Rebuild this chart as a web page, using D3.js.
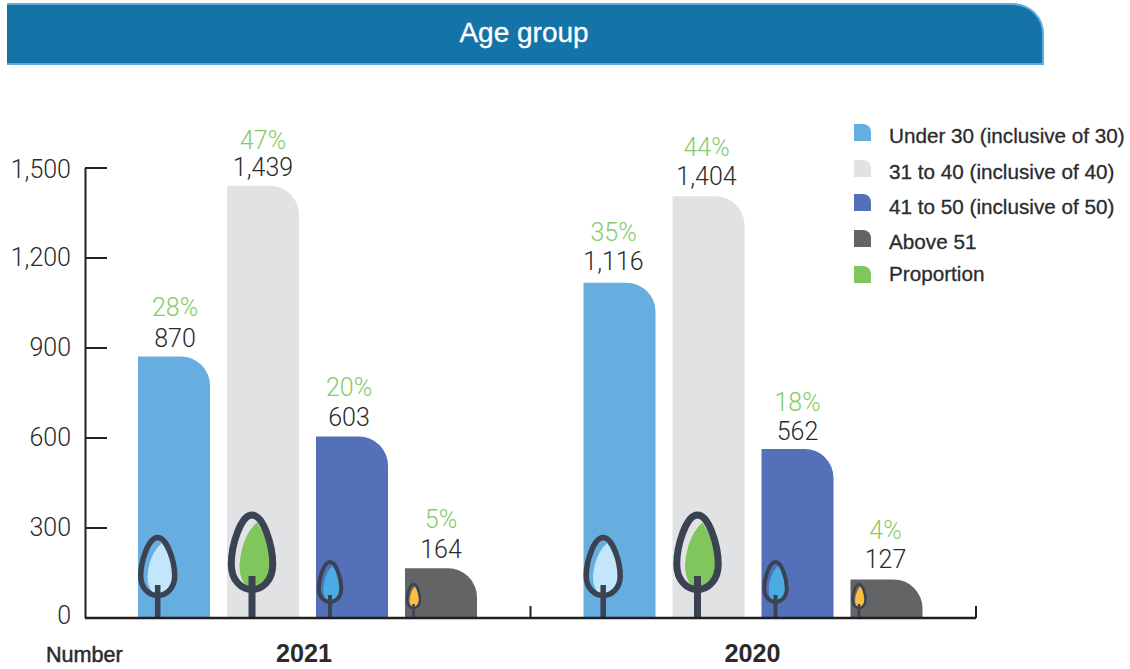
<!DOCTYPE html>
<html>
<head>
<meta charset="utf-8">
<script src="https://cdnjs.cloudflare.com/ajax/libs/d3/7.8.5/d3.min.js"></script>
<style>
  html, body { margin: 0; padding: 0; background: #fff; }
  svg { display: block; font-family: "Liberation Sans", Arial, sans-serif; }
  .thin { font-family: Roboto, "Liberation Sans", sans-serif; font-weight: 300; }
</style>
</head>
<body>
<div id="chart"></div>
<script>
var width = 1130,
    height = 669;

var title = "Age group";
var years = ["2021", "2020"];
var groups = ["Under 30 (inclusive of 30)", "31 to 40 (inclusive of 40)", "41 to 50 (inclusive of 50)", "Above 51"];
var legendLabels = groups.concat(["Proportion"]);
var values2021 = [870, 1439, 603, 164];
var values2020 = [1116, 1404, 562, 127];
var share2021 = [28, 47, 20, 5];
var share2020 = [35, 44, 18, 4];
var yTicks = [0, 300, 600, 900, 1200, 1500];

var barColors = ["#66aee0", "#e0e2e4", "#5470b8", "#636466"];
var legendColors = barColors.concat(["#7fc65c"]);
var treeColors = ["#c4e6fa", "#7fc65c", "#4aace3", "#fdbe3d"];
var inkColor = "#3b4252";
var green = "#85cb6a";
var textColor = "#2b2b2d";

var svg = d3.select("#chart").append("svg")
    .attr("width", width)
    .attr("height", height);

var y = d3.scaleLinear().domain([0, 1500]).range([617.5, 167.5]);
var x0 = d3.scaleBand().domain(years).range([85, 976]);
var x1 = d3.scaleBand().domain(d3.range(4)).range([53, 392]).paddingInner(17 / 89).paddingOuter(0);

// header band, light edge on top, right and bottom only
svg.append("path")
    .attr("d", "M7,64 V4 H1013 A30,30 0 0 1 1043,34 V64 Z")
    .attr("fill", "#1474a8");
svg.append("path")
    .attr("d", "M7,4 H1013 A30,30 0 0 1 1043,34 V64 H7")
    .attr("fill", "none")
    .attr("stroke", "#62aadd")
    .attr("stroke-width", 2);

svg.append("text")
    .attr("x", 524)
    .attr("y", 42)
    .attr("text-anchor", "middle")
    .attr("fill", "#fff")
    .attr("stroke", "#fff")
    .attr("stroke-width", 0.3)
    .attr("font-size", 28)
    .text(title);

// bar with the top right corner rounded
function barPath(x, top, w, base) {
  var r = 29;
  return "M" + x + "," + base + "V" + top + "H" + (x + w - r) +
    "A" + r + "," + r + " 0 0 1 " + (x + w) + "," + (top + r) + "V" + base + "Z";
}

// crown outline, tip at top and round end at top + h
function crownPath(cx, top, h, w) {
  return "M" + cx + "," + top +
    "C" + (cx + w * 0.28) + "," + top + " " + (cx + w * 0.5) + "," + (top + h * 0.42) + " " + (cx + w * 0.5) + "," + (top + h * 0.66) +
    "C" + (cx + w * 0.5) + "," + (top + h * 0.88) + " " + (cx + w * 0.25) + "," + (top + h) + " " + cx + "," + (top + h) +
    "C" + (cx - w * 0.25) + "," + (top + h) + " " + (cx - w * 0.5) + "," + (top + h * 0.88) + " " + (cx - w * 0.5) + "," + (top + h * 0.66) +
    "C" + (cx - w * 0.5) + "," + (top + h * 0.42) + " " + (cx - w * 0.28) + "," + top + " " + cx + "," + top + "Z";
}

// the inner fill leans right and leaves a sliver of the bar colour on the left
function leafPath(cx, top, h, w) {
  return "M" + (cx + w * 0.12) + "," + (top + h * 0.1) +
    "C" + (cx + w * 0.34) + "," + (top + h * 0.3) + " " + (cx + w * 0.48) + "," + (top + h * 0.5) + " " + (cx + w * 0.48) + "," + (top + h * 0.66) +
    "C" + (cx + w * 0.48) + "," + (top + h * 0.88) + " " + (cx + w * 0.25) + "," + (top + h * 0.98) + " " + cx + "," + (top + h * 0.98) +
    "C" + (cx - w * 0.16) + "," + (top + h * 0.98) + " " + (cx - w * 0.3) + "," + (top + h * 0.86) + " " + (cx - w * 0.3) + "," + (top + h * 0.68) +
    "C" + (cx - w * 0.28) + "," + (top + h * 0.42) + " " + (cx - w * 0.1) + "," + (top + h * 0.2) + " " + (cx + w * 0.12) + "," + (top + h * 0.1) + "Z";
}

var treeTop = [537.5, 515, 562, 584];
var treeHeight = [58, 74.5, 40, 24];
var treeWidth = [34, 41.5, 22.5, 13];
var treeOffset = [19.7, 25, 14, 8.5];
var treeStroke = [5.5, 7, 4, 2.5];
var stemWidth = [5.5, 7, 4, 2.5];
var stemTop = [585, 576, 595, 604];

var valueGap = [[10, 10, 11, 10], [13, 11, 9, 11]];
var shareGap = [[41, 37, 41, 40], [42, 40, 38, 40]];
var labelShift = [[1, 0, -3, 0], [-6, -2, 0, -1]];

years.forEach(function(year, yi) {
  var vals = yi === 0 ? values2021 : values2020;
  var shares = yi === 0 ? share2021 : share2020;
  var g = svg.append("g").attr("transform", "translate(" + x0(year) + ",0)");

  g.selectAll(".bar")
      .data(vals)
    .enter().append("path")
      .attr("class", "bar")
      .attr("fill", function(d, i) { return barColors[i]; })
      .attr("d", function(d, i) { return barPath(x1(i), y(d), x1.bandwidth(), y(0)); });

  g.selectAll(".value")
      .data(vals)
    .enter().append("text")
      .attr("class", "value thin")
      .attr("x", function(d, i) { return x1(i) + x1.bandwidth() / 2 + labelShift[yi][i]; })
      .attr("y", function(d, i) { return y(d) - valueGap[yi][i]; })
      .attr("text-anchor", "middle")
      .attr("font-size", 25)
      .attr("fill", textColor)
      .text(function(d) { return d3.format(",")(d); });

  g.selectAll(".share")
      .data(shares)
    .enter().append("text")
      .attr("class", "share thin")
      .attr("x", function(d, i) { return x1(i) + x1.bandwidth() / 2 + labelShift[yi][i]; })
      .attr("y", function(d, i) { return y(vals[i]) - shareGap[yi][i]; })
      .attr("text-anchor", "middle")
      .attr("font-size", 25)
      .attr("fill", green)
      .text(function(d) { return d + "%"; });

  // trees
  var trees = g.selectAll(".tree")
      .data(vals)
    .enter().append("g")
      .attr("class", "tree");

  trees.append("path")
      .attr("fill", function(d, i) { return treeColors[i]; })
      .attr("d", function(d, i) {
        return leafPath(x1(i) + treeOffset[i], treeTop[i], treeHeight[i], treeWidth[i]);
      });

  trees.append("path")
      .attr("fill", "none")
      .attr("stroke", inkColor)
      .attr("stroke-width", function(d, i) { return treeStroke[i]; })
      .attr("stroke-linejoin", "round")
      .attr("d", function(d, i) {
        return crownPath(x1(i) + treeOffset[i], treeTop[i], treeHeight[i], treeWidth[i]);
      });

  trees.append("line")
      .attr("stroke", inkColor)
      .attr("stroke-width", function(d, i) { return stemWidth[i]; })
      .attr("x1", function(d, i) { return x1(i) + treeOffset[i]; })
      .attr("x2", function(d, i) { return x1(i) + treeOffset[i]; })
      .attr("y1", function(d, i) { return stemTop[i]; })
      .attr("y2", y(0));
});

// axes
var yAxis = d3.axisLeft(y)
    .tickValues(yTicks)
    .tickSize(0)
    .tickPadding(14)
    .tickFormat(d3.format(","));

var yG = svg.append("g")
    .attr("transform", "translate(85,0)")
    .call(yAxis);
yG.select(".domain").attr("stroke", "#231f20").attr("stroke-width", 2);
yG.selectAll("text")
    .attr("class", "thin")
    .attr("font-size", 25)
    .attr("font-family", null)
    .attr("fill", textColor)
    .attr("transform", function(d) {
      if (d === 0) return "translate(0,-2.5)";
      if (d === 1500) return "translate(0,1.5)";
      return null;
    });
yG.selectAll(".tick").append("line")
    .attr("x1", 0)
    .attr("x2", 22)
    .attr("stroke", "#231f20")
    .attr("stroke-width", 2);

var xG = svg.append("g").attr("transform", "translate(0,618)");
xG.append("line")
    .attr("x1", 85).attr("x2", 976)
    .attr("stroke", "#231f20").attr("stroke-width", 2.4);
xG.selectAll(".sep")
    .data(x0.domain().map(function(d) { return x0(d) + x0.bandwidth(); }))
  .enter().append("line")
    .attr("class", "sep")
    .attr("x1", function(d) { return d; })
    .attr("x2", function(d) { return d; })
    .attr("y1", 0)
    .attr("y2", -12)
    .attr("stroke", "#231f20").attr("stroke-width", 2);

svg.selectAll(".year")
    .data(years)
  .enter().append("text")
    .attr("class", "year")
    .attr("x", function(d, i) { return x0(d) + (i === 0 ? 219 : 222); })
    .attr("y", 662)
    .attr("text-anchor", "middle")
    .attr("font-size", 25.2)
    .attr("font-weight", "bold")
    .attr("fill", textColor)
    .text(function(d) { return d; });

svg.append("text")
    .attr("x", 46)
    .attr("y", 662)
    .attr("font-size", 21.6)
    .attr("fill", textColor)
    .attr("stroke", textColor)
    .attr("stroke-width", 0.5)
    .text("Number");

// legend
var swatchY = [124, 160, 194, 230, 266];
var legendTextY = [143, 179, 214, 249, 281];
var legend = svg.selectAll(".legend")
    .data(legendLabels)
  .enter().append("g")
    .attr("class", "legend");

legend.append("path")
    .attr("fill", function(d, i) { return legendColors[i]; })
    .attr("transform", function(d, i) { return "translate(854," + swatchY[i] + ")"; })
    .attr("d", "M0,17V0H9A8,8 0 0 1 17,8V17Z");

legend.append("text")
    .attr("x", 889)
    .attr("y", function(d, i) { return legendTextY[i]; })
    .attr("font-size", 20.7)
    .attr("fill", textColor)
    .attr("stroke", textColor)
    .attr("stroke-width", 0.3)
    .text(function(d) { return d; });
</script>
</body>
</html>
